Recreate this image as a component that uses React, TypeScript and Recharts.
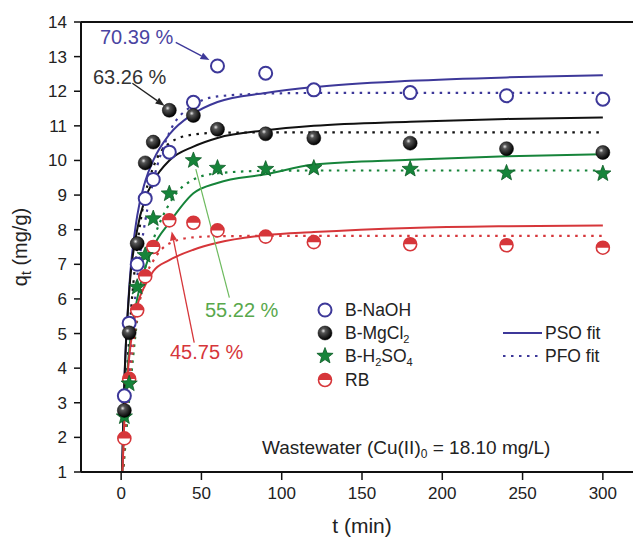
import React from "react";
import {
  ComposedChart,
  Line,
  Scatter,
  XAxis,
  YAxis,
  ReferenceLine,
  Customized,
} from "recharts";

// measured points (t in min, qt in mg/g)
const times = [2, 5, 10, 15, 20, 30, 45, 60, 90, 120, 180, 240, 300];
const naoh = [3.2, 5.3, 7.0, 8.9, 9.45, 10.24, 11.68, 12.73, 12.52, 12.04, 11.96, 11.87, 11.77];
const mgcl2 = [2.78, 5.02, 7.6, 9.93, 10.53, 11.45, 11.3, 10.9, 10.77, 10.65, 10.5, 10.34, 10.23];
const h2so4 = [2.6, 3.55, 6.34, 7.26, 8.32, 9.04, 10.0, 9.78, 9.75, 9.78, 9.75, 9.64, 9.62];
const rb = [1.97, 3.69, 5.67, 6.65, 7.5, 8.27, 8.2, 7.98, 7.8, 7.64, 7.58, 7.55, 7.48];

// fit curves
const fitTimes = [0, 2, 5, 10, 15, 20, 30, 45, 60, 90, 120, 180, 240, 300];
const naohPso = [0, 3.6, 6.3, 8.4, 9.4, 10.0, 10.75, 11.35, 11.69, 11.95, 12.12, 12.3, 12.4, 12.46];
const naohPfo = [0, 1.8, 3.9, 6.6, 8.25, 9.4, 10.8, 11.6, 11.85, 11.93, 11.95, 11.95, 11.95, 11.95];
const mgPso = [0, 3.6, 6.2, 8.0, 8.9, 9.4, 10.0, 10.4, 10.65, 10.87, 11.0, 11.12, 11.2, 11.24];
const mgPfo = [0, 2.3, 4.9, 7.5, 9.0, 9.8, 10.5, 10.75, 10.8, 10.81, 10.81, 10.81, 10.81, 10.81];
const h2Pso = [0, 2.6, 4.5, 6.0, 6.9, 7.5, 8.2, 9.05, 9.35, 9.6, 9.88, 10.02, 10.12, 10.18];
const h2Pfo = [0, 1.4, 3.1, 5.4, 6.9, 7.7, 8.75, 9.45, 9.63, 9.7, 9.71, 9.71, 9.71, 9.71];
const rbPso = [0, 2.5, 4.3, 5.8, 6.4, 6.8, 7.12, 7.42, 7.62, 7.84, 7.93, 8.05, 8.1, 8.12];
const rbPfo = [0, 1.7, 3.5, 5.5, 6.6, 7.1, 7.6, 7.78, 7.81, 7.82, 7.82, 7.82, 7.82, 7.82];

const xTicks = [0, 50, 100, 150, 200, 250, 300];
const xMinor = [25, 75, 125, 175, 225, 275];
const yTicks = [1, 2, 3, 4, 5, 6, 7, 8, 9, 10, 11, 12, 13, 14];
const yMinor = [1.5, 2.5, 3.5, 4.5, 5.5, 6.5, 7.5, 8.5, 9.5, 10.5, 11.5, 12.5, 13.5];

// annotation arrows: [from, to] in data units
const arrowNaoh = [{ x: 34, y: 13.41 }, { x: 55, y: 12.9 }];
const arrowMg = [{ x: 7, y: 12.23 }, { x: 27, y: 11.58 }];
const arrowH2 = [{ x: 67.4, y: 6.04 }, { x: 46.5, y: 9.75 }];
const arrowRb = [{ x: 45.5, y: 4.74 }, { x: 31.5, y: 7.95 }];

const points = times.map((t, i) => ({
  t,
  naoh: naoh[i],
  mgcl2: mgcl2[i],
  h2so4: h2so4[i],
  rb: rb[i],
}));
const fits = fitTimes.map((t, i) => ({
  t,
  naohPso: naohPso[i],
  naohPfo: naohPfo[i],
  mgPso: mgPso[i],
  mgPfo: mgPfo[i],
  h2Pso: h2Pso[i],
  h2Pfo: h2Pfo[i],
  rbPso: rbPso[i],
  rbPfo: rbPfo[i],
}));

const FONT = "'Liberation Sans', Arial, sans-serif";
const BLUE = "#3d3899";
const BLACK = "#111";
const GREEN = "#16843a";
const RED = "#d6363a";
const DOTS = "2.5 5.5";

function OpenCircle({ cx, cy }: any) {
  return <circle cx={cx} cy={cy} r={6.5} fill="#fff" stroke={BLUE} strokeWidth={2} />;
}
function Ball({ cx, cy }: any) {
  return <circle cx={cx} cy={cy} r={7} fill="url(#ballGrad)" stroke="#000" strokeWidth={0.5} />;
}
function Star({ cx, cy }: any) {
  const pts: string[] = [];
  for (let k = 0; k < 10; k++) {
    const r = k % 2 === 0 ? 8.5 : 3.6;
    const a = -Math.PI / 2 + (k * Math.PI) / 5;
    pts.push(`${cx + r * Math.cos(a)},${cy + r * Math.sin(a)}`);
  }
  return <polygon points={pts.join(" ")} fill={GREEN} stroke="#0c5c26" strokeWidth={0.8} />;
}
function HalfCircle({ cx, cy }: any) {
  const r = 6.5;
  return (
    <g>
      <circle cx={cx} cy={cy} r={r} fill="#fff" stroke={RED} strokeWidth={1.6} />
      <path d={`M${cx - r},${cy} A${r},${r} 0 0 1 ${cx + r},${cy} Z`} fill={RED} />
    </g>
  );
}

function arrowShape(color: string, head: boolean, width = 1.3) {
  return (p: any) => {
    const { x1, y1, x2, y2 } = p;
    const a = Math.atan2(y2 - y1, x2 - x1);
    const L = 9;
    const W = 3.5;
    const bx = x2 - L * Math.cos(a);
    const by = y2 - L * Math.sin(a);
    const nx = -Math.sin(a) * W;
    const ny = Math.cos(a) * W;
    return (
      <g>
        <line x1={x1} y1={y1} x2={head ? bx : x2} y2={head ? by : y2} stroke={color} strokeWidth={width} />
        {head && (
          <polygon
            points={`${x2},${y2} ${bx + nx},${by + ny} ${bx - nx},${by - ny}`}
            fill={color}
          />
        )}
      </g>
    );
  };
}

function Overlay() {
  const lx = 325;
  const tx = 345;
  return (
    <g fontFamily={FONT}>
      <defs>
        <radialGradient id="ballGrad" cx="38%" cy="35%" r="65%">
          <stop offset="0%" stopColor="#e8e8e8" />
          <stop offset="25%" stopColor="#555" />
          <stop offset="100%" stopColor="#000" />
        </radialGradient>
      </defs>

      {/* axis titles */}
      <text transform="translate(27,247) rotate(-90)" textAnchor="middle" fontSize={20} fill="#222">
        q<tspan fontSize={14} dy={4}>t</tspan>
        <tspan dy={-4}> (mg/g)</tspan>
      </text>
      <text x={362} y={533} textAnchor="middle" fontSize={21} fill="#222">
        t (min)
      </text>

      {/* annotations */}
      <text x={100} y={44} fontSize={20} fill="#4a44a2">70.39 %</text>
      <text x={93} y={84} fontSize={20} fill="#333">63.26 %</text>
      <text x={205} y={317} fontSize={20} fill="#58a84c">55.22 %</text>
      <text x={170} y={359} fontSize={20} fill={RED}>45.75 %</text>

      <text x={262} y={454} fontSize={19} fill="#222">
        Wastewater (Cu(II)<tspan fontSize={12} dy={4}>0</tspan>
        <tspan dy={-4}> = 18.10 mg/L)</tspan>
      </text>

      {/* legend */}
      <OpenCircle cx={lx} cy={310} />
      <Ball cx={lx} cy={333} />
      <Star cx={lx} cy={356} />
      <HalfCircle cx={lx} cy={380} />
      <g fontSize={17.5} fill="#222">
        <text x={tx} y={316}>B-NaOH</text>
        <text x={tx} y={339}>
          B-MgCl<tspan fontSize={11} dy={4}>2</tspan>
        </text>
        <text x={tx} y={362}>
          B-H<tspan fontSize={11} dy={4}>2</tspan>
          <tspan dy={-4}>SO</tspan>
          <tspan fontSize={11} dy={4}>4</tspan>
        </text>
        <text x={tx} y={386}>RB</text>
      </g>
      <line x1={503} y1={333} x2={542} y2={333} stroke={BLUE} strokeWidth={2} />
      <line x1={503} y1={356} x2={542} y2={356} stroke={BLUE} strokeWidth={2} strokeDasharray={DOTS} />
      <g fontSize={17.5} fill="#222">
        <text x={545} y={339}>PSO fit</text>
        <text x={545} y={362}>PFO fit</text>
      </g>
    </g>
  );
}

const tickStyle = { fontSize: 17, fill: "#222", fontFamily: FONT };
const noLabel = () => <g />;
const axisStyle = { stroke: BLACK, strokeWidth: 2 };
const tickLineStyle = { stroke: BLACK, strokeWidth: 1.5 };

export default function App() {
  // the original frame runs past the right edge of the picture, so the chart is
  // drawn a little wider and cut at 633px
  return (
    <div
      style={{
        position: "absolute",
        left: 0,
        top: 0,
        width: 633,
        height: 542,
        overflow: "hidden",
        background: "#fff",
      }}
    >
      <ComposedChart
        width={660}
        height={542}
        margin={{ top: 21, right: 17, bottom: 68, left: 79 }}
      >
        <XAxis
          xAxisId="minor"
          type="number"
          domain={[-25, 325]}
          ticks={xMinor}
          height={1}
          tick={noLabel}
          tickSize={4}
          axisLine={false}
          tickLine={tickLineStyle}
        />
        <XAxis
          dataKey="t"
          type="number"
          domain={[-25, 325]}
          ticks={xTicks}
          height={1}
          tickSize={8}
          tickMargin={7}
          tick={tickStyle}
          axisLine={axisStyle}
          tickLine={tickLineStyle}
        />
        <XAxis
          xAxisId="top"
          orientation="top"
          type="number"
          domain={[-25, 325]}
          height={1}
          tick={false}
          tickLine={false}
          axisLine={axisStyle}
        />
        <YAxis
          yAxisId="minor"
          type="number"
          domain={[1, 14]}
          ticks={yMinor}
          width={1}
          tick={noLabel}
          tickSize={4}
          axisLine={false}
          tickLine={tickLineStyle}
        />
        <YAxis
          type="number"
          domain={[1, 14]}
          ticks={yTicks}
          width={1}
          allowDataOverflow
          tickSize={7}
          tickMargin={7}
          tick={tickStyle}
          axisLine={axisStyle}
          tickLine={tickLineStyle}
        />

        <Line data={fits} dataKey="naohPso" type="monotone" stroke={BLUE} strokeWidth={2} dot={false} isAnimationActive={false} />
        <Line data={fits} dataKey="naohPfo" type="monotone" stroke={BLUE} strokeWidth={2.2} strokeDasharray={DOTS} dot={false} isAnimationActive={false} />
        <Line data={fits} dataKey="mgPso" type="monotone" stroke={BLACK} strokeWidth={2} dot={false} isAnimationActive={false} />
        <Line data={fits} dataKey="mgPfo" type="monotone" stroke={BLACK} strokeWidth={2.2} strokeDasharray={DOTS} dot={false} isAnimationActive={false} />
        <Line data={fits} dataKey="h2Pso" type="monotone" stroke={GREEN} strokeWidth={2} dot={false} isAnimationActive={false} />
        <Line data={fits} dataKey="h2Pfo" type="monotone" stroke={GREEN} strokeWidth={2.2} strokeDasharray={DOTS} dot={false} isAnimationActive={false} />
        <Line data={fits} dataKey="rbPso" type="monotone" stroke={RED} strokeWidth={2} dot={false} isAnimationActive={false} />
        <Line data={fits} dataKey="rbPfo" type="monotone" stroke={RED} strokeWidth={2.2} strokeDasharray={DOTS} dot={false} isAnimationActive={false} />

        <Scatter data={points} dataKey="rb" shape={(p: any) => <HalfCircle cx={p.cx} cy={p.cy} />} isAnimationActive={false} />
        <Scatter data={points} dataKey="h2so4" shape={(p: any) => <Star cx={p.cx} cy={p.cy} />} isAnimationActive={false} />
        <Scatter data={points} dataKey="naoh" shape={(p: any) => <OpenCircle cx={p.cx} cy={p.cy} />} isAnimationActive={false} />
        <Scatter data={points} dataKey="mgcl2" shape={(p: any) => <Ball cx={p.cx} cy={p.cy} />} isAnimationActive={false} />

        <ReferenceLine segment={arrowNaoh} ifOverflow="visible" shape={arrowShape("#3d3899", true)} />
        <ReferenceLine segment={arrowMg} ifOverflow="visible" shape={arrowShape("#222", true)} />
        <ReferenceLine segment={arrowH2} ifOverflow="visible" shape={arrowShape("#6dba5e", false, 1.2)} />
        <ReferenceLine segment={arrowRb} ifOverflow="visible" shape={arrowShape(RED, true)} />

        <Customized component={<Overlay />} />
      </ComposedChart>
    </div>
  );
}
